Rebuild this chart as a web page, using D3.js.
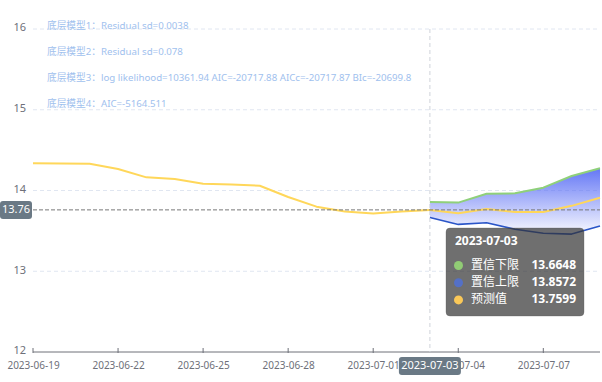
<!DOCTYPE html>
<html><head><meta charset="utf-8">
<script src="https://cdn.jsdelivr.net/npm/d3@7"></script>
<style>
html,body{margin:0;padding:0;background:#fff;}
svg{display:block;font-family:"Noto Sans","Noto Sans CJK SC",sans-serif;}
</style></head>
<body>
<svg id="chart" width="602" height="382"></svg>
<script>
const dates = ["2023-06-19","2023-06-20","2023-06-21","2023-06-22","2023-06-23","2023-06-24","2023-06-25","2023-06-26","2023-06-27","2023-06-28","2023-06-29","2023-06-30","2023-07-01","2023-07-02","2023-07-03","2023-07-04","2023-07-05","2023-07-06","2023-07-07","2023-07-08","2023-07-09"];
const history = [14.337,14.335,14.33,14.266,14.163,14.142,14.084,14.074,14.059,13.92,13.80,13.74,13.715,13.74,13.7599,null,null,null,null,null,null];
const forecast = [null,null,null,null,null,null,null,null,null,null,null,null,null,null,13.7599,13.717,13.77,13.735,13.735,13.81,13.91];
const lowerBound = [null,null,null,null,null,null,null,null,null,null,null,null,null,null,13.6648,13.58,13.60,13.52,13.47,13.46,13.56];
const upperBound = [null,null,null,null,null,null,null,null,null,null,null,null,null,null,13.8572,13.85,13.96,13.965,14.035,14.18,14.275];
const yTicks = [12,13,14,15,16];
const xLabelDates = ["2023-06-19","2023-06-22","2023-06-25","2023-06-28","2023-07-01","2023-07-04","2023-07-07"];
const notes = ["底层模型1：Residual sd=0.0038","底层模型2：Residual sd=0.078","底层模型3：log likelihood=10361.94 AIC=-20717.88 AICc=-20717.87 BIc=-20699.8","底层模型4：AIC=-5164.511"];
const pointerDate = "2023-07-03";
const pointerValue = 13.76;
const tipRows = [["置信下限","13.6648","#91cc75"],["置信上限","13.8572","#5470c6"],["预测值","13.7599","#fac858"]];

const svg = d3.select("#chart");
const x = d3.scalePoint().domain(dates).range([33,600]);
const y = d3.scaleLinear().domain([12,16]).range([352,29]);

const defs = svg.append("defs");
const g = defs.append("linearGradient").attr("id","band").attr("x1",0).attr("y1",0).attr("x2",0).attr("y2",1);
g.append("stop").attr("offset","0%").attr("stop-color","rgb(92,112,245)").attr("stop-opacity",0.95);
g.append("stop").attr("offset","100%").attr("stop-color","rgb(92,112,245)").attr("stop-opacity",0.04);

svg.append("g").selectAll("line").data(yTicks.filter(t=>t!==12)).join("line")
  .attr("x1",33).attr("x2",600).attr("y1",d=>y(d)).attr("y2",d=>y(d))
  .attr("stroke","#e0e6f1").attr("stroke-dasharray","4,3");

svg.append("g").selectAll("text").data(yTicks).join("text")
  .attr("x",26).attr("y",d=>y(d)-0.5).attr("text-anchor","end").attr("dominant-baseline","middle")
  .attr("font-size",11).attr("fill","#6e7079").text(d=>d);

const xAxis = d3.axisBottom(x).tickValues(xLabelDates).tickSize(0).tickPadding(10);
const ax = svg.append("g").attr("transform",`translate(0,${y(12)})`).call(xAxis);
ax.select(".domain").remove();
ax.selectAll("text").attr("font-size",10).attr("fill","#6e7079").attr("font-family","Noto Sans, Noto Sans CJK SC, sans-serif");
svg.append("line").attr("x1",33).attr("x2",600).attr("y1",y(12)).attr("y2",y(12)).attr("stroke","#6e7079");
svg.append("g").selectAll("line").data(xLabelDates).join("line")
  .attr("x1",d=>x(d)).attr("x2",d=>x(d)).attr("y1",y(12)-4).attr("y2",y(12)+1).attr("stroke","#6e7079");

const idx = dates.map((d,i)=>i).filter(i=>lowerBound[i]!=null);
const area = d3.area().x(i=>x(dates[i])).y0(i=>y(lowerBound[i])).y1(i=>y(upperBound[i]));
svg.append("path").datum(idx).attr("d",area).attr("fill","url(#band)");

function drawLine(arr,color,w){
  const line = d3.line().defined(i=>arr[i]!=null).x(i=>x(dates[i])).y(i=>y(arr[i]));
  svg.append("path").datum(dates.map((d,i)=>i)).attr("d",line).attr("fill","none")
    .attr("stroke",color).attr("stroke-width",w).attr("stroke-linejoin","round");
}
drawLine(upperBound,"#8fd07a",2);
drawLine(lowerBound,"#2a55c8",1.6);
drawLine(history,"#ffd75a",2);
drawLine(forecast,"#ffd75a",2);

svg.append("g").selectAll("text").data(notes).join("text")
  .attr("x",47).attr("y",(d,i)=>26+i*26.3).attr("dominant-baseline","middle")
  .attr("font-size",9.7).attr("fill","#9fc1ee").text(d=>d);

const px = x(pointerDate), py = y(pointerValue);
svg.append("line").attr("x1",px).attr("x2",px).attr("y1",y(16)).attr("y2",y(12))
  .attr("stroke","#cfd3da").attr("stroke-dasharray","4,3");
svg.append("line").attr("x1",33).attr("x2",600).attr("y1",py).attr("y2",py)
  .attr("stroke","#777").attr("stroke-dasharray","4,2");

svg.append("rect").attr("x",0).attr("y",py-9).attr("width",32).attr("height",18).attr("rx",3).attr("fill","#6a7985");
svg.append("text").attr("x",16).attr("y",py).attr("text-anchor","middle").attr("dominant-baseline","middle")
  .attr("font-size",11).attr("fill","#fff").text(pointerValue.toFixed(2));
svg.append("rect").attr("x",px-31).attr("y",357).attr("width",62).attr("height",18).attr("rx",3).attr("fill","#6a7985");
svg.append("text").attr("x",px).attr("y",366).attr("text-anchor","middle").attr("dominant-baseline","middle")
  .attr("font-size",11).attr("fill","#fff").text(pointerDate);

const tt = svg.append("g");
tt.append("rect").attr("x",446).attr("y",228).attr("width",138).attr("height",88).attr("rx",4)
  .attr("fill","rgba(50,50,50,0.7)").attr("stroke","#555").attr("stroke-opacity",0.3);
tt.append("text").attr("x",455).attr("y",242).attr("dominant-baseline","middle")
  .attr("font-size",12).attr("font-weight","bold").attr("fill","#fff").text(pointerDate);
tipRows.forEach((r,i)=>{
  const cy = 265.5 + i*17.2;
  tt.append("circle").attr("cx",458.5).attr("cy",cy).attr("r",4.5).attr("fill",r[2]);
  tt.append("text").attr("x",471).attr("y",cy).attr("dominant-baseline","middle")
    .attr("font-size",12).attr("fill","#fff").text(r[0]);
  tt.append("text").attr("x",576).attr("y",cy).attr("dominant-baseline","middle").attr("text-anchor","end")
    .attr("font-size",12).attr("font-weight","bold").attr("fill","#fff").text(r[1]);
});
</script>
</body></html>
